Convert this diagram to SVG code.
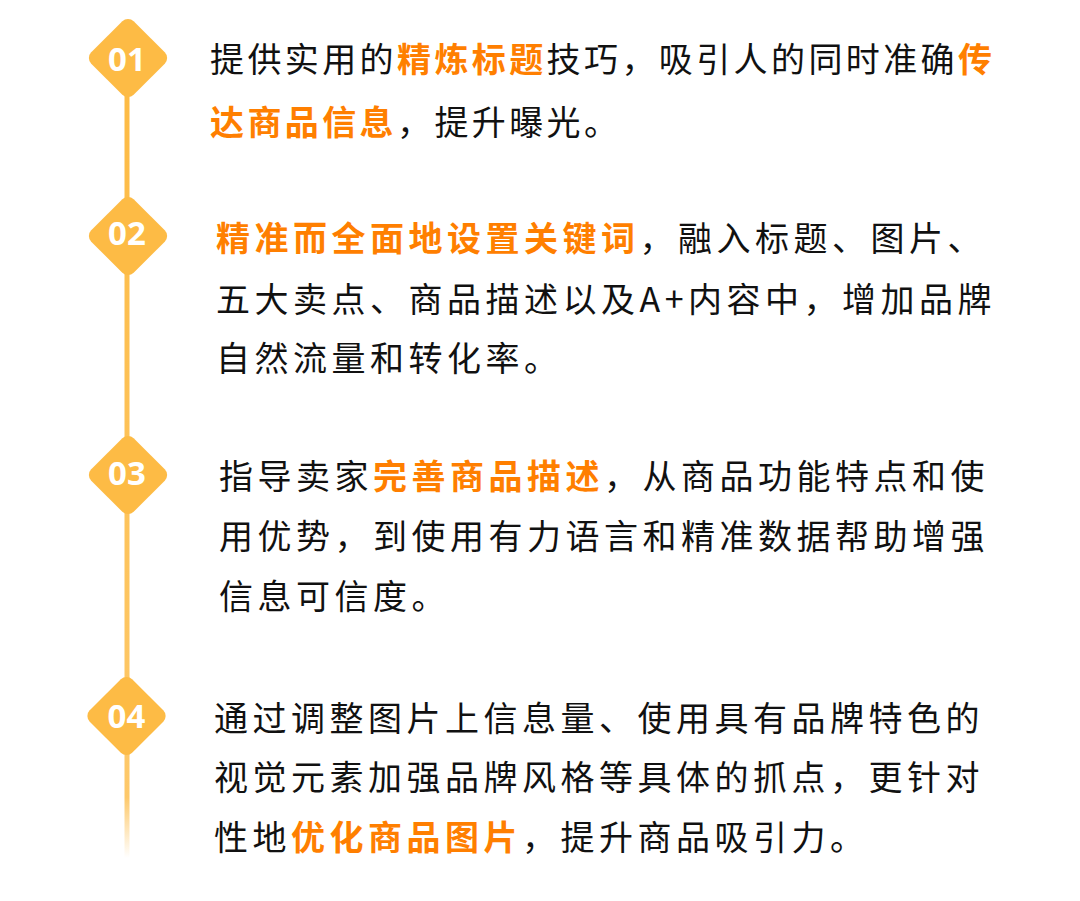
<svg xmlns="http://www.w3.org/2000/svg" width="1080" height="901" viewBox="0 0 1080 901">
<style>
.t{font-family:"Noto Sans CJK SC","Noto Sans",sans-serif;font-size:34px;fill:#111111;}
.p1{letter-spacing:3.4px;}
.p{letter-spacing:4.5px;}
.hl{fill:#FF7F00;font-weight:700;}
.num{font-family:"Noto Sans","DejaVu Sans",sans-serif;font-size:33px;font-weight:700;fill:#FFFFFF;text-anchor:middle;}
.dia{fill:#FDBB45;}
</style>
<defs>
<linearGradient id="fade" gradientUnits="userSpaceOnUse" x1="0" y1="97" x2="0" y2="858">
<stop offset="0" stop-color="#FDBB45"/>
<stop offset="0.92" stop-color="#FDBB45" stop-opacity="0.8"/>
<stop offset="1" stop-color="#FDBB45" stop-opacity="0"/>
</linearGradient>
</defs>
<rect width="1080" height="901" fill="#FFFFFF"/>
<g id="connectors">
<rect x="124.5" y="96" width="5" height="762" fill="url(#fade)"/>
</g>
<g id="node1">
<rect class="dia" x="-30" y="-30" width="60" height="60" rx="8" transform="translate(128 58) rotate(45)"/>
<text class="num" x="127" y="71">01</text>
<text class="t p1" x="210" y="72">提供实用的<tspan class="hl">精炼标题</tspan>技巧，吸引人的同时准确<tspan class="hl">传</tspan></text>
<text class="t p1" x="210" y="134.5"><tspan class="hl">达商品信息</tspan>，提升曝光。</text>
</g>
<g id="node2">
<rect class="dia" x="-30" y="-30" width="60" height="60" rx="8" transform="translate(128 236) rotate(45)"/>
<text class="num" x="127" y="245">02</text>
<text class="t p" x="216" y="251"><tspan class="hl">精准而全面地设置关键词</tspan>，融入标题、图片、</text>
<text class="t p" x="216" y="312">五大卖点、商品描述以及A+内容中，增加品牌</text>
<text class="t p" x="216" y="371">自然流量和转化率。</text>
</g>
<g id="node3">
<rect class="dia" x="-30" y="-30" width="60" height="60" rx="8" transform="translate(128 475) rotate(45)"/>
<text class="num" x="127" y="485">03</text>
<text class="t p" x="219" y="489">指导卖家<tspan class="hl">完善商品描述</tspan>，从商品功能特点和使</text>
<text class="t p" x="219" y="549">用优势，到使用有力语言和精准数据帮助增强</text>
<text class="t p" x="219" y="609">信息可信度。</text>
</g>
<g id="node4">
<rect class="dia" x="-30" y="-30" width="60" height="60" rx="8" transform="translate(126.5 716) rotate(45)"/>
<text class="num" x="126.5" y="728">04</text>
<text class="t p" x="214" y="731">通过调整图片上信息量、使用具有品牌特色的</text>
<text class="t p" x="214" y="790">视觉元素加强品牌风格等具体的抓点，更针对</text>
<text class="t p" x="214" y="850">性地<tspan class="hl">优化商品图片</tspan>，提升商品吸引力。</text>
</g>
</svg>
